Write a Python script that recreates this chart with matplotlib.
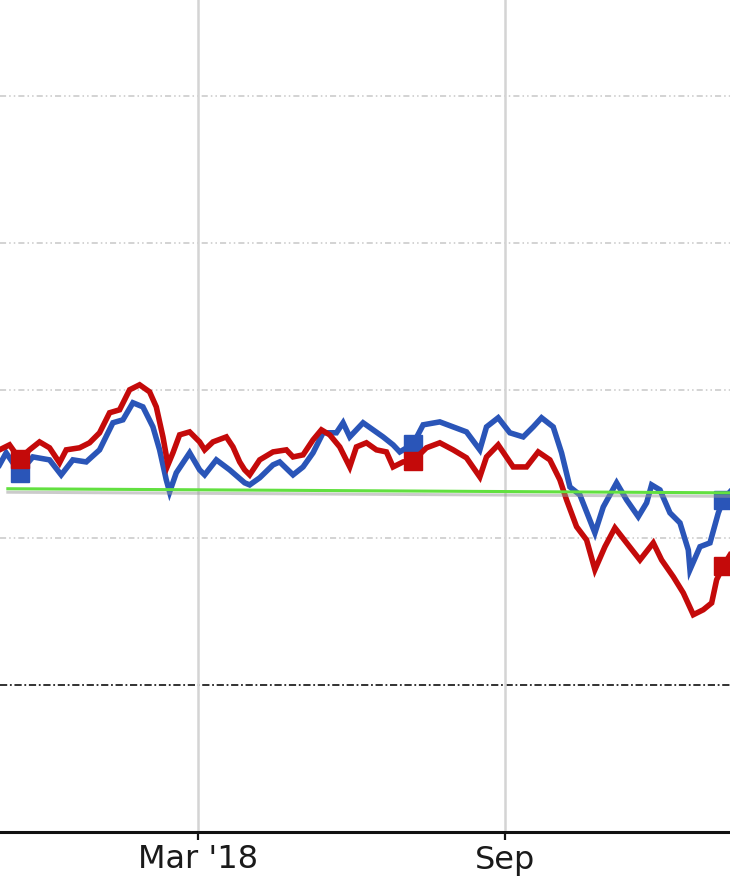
import matplotlib
matplotlib.use("Agg")
import matplotlib.pyplot as plt
import matplotlib.patheffects as pe
import pandas as pd

# ---- data (days offset from 2018-03-01, values in price units) ----
base_date = "2018-03-01"

red_days = [-119, -113, -107, -101, -95, -89, -83, -79, -71, -65, -59, -53, -47, -41, -35,
            -29, -25, -21, -18, -15, -11, -5, 1, 4, 9, 17, 21, 25, 28, 31, 37, 45, 53, 57,
            63, 69, 74, 79, 85, 91, 95, 101, 107, 113, 117, 123, 129, 137, 145, 153, 161,
            169, 173, 180, 189, 197, 204, 211, 217, 221, 227, 233, 238, 244, 250, 257, 265,
            273, 278, 285, 291, 297, 303, 308, 311, 315, 319]
red_vals = [27.98, 28.15, 27.67, 27.98, 28.25, 28.05, 27.54, 27.98, 28.05, 28.22, 28.56, 29.24,
            29.34, 30.02, 30.19, 29.95, 29.44, 28.42, 27.47, 27.88, 28.49, 28.59, 28.25, 27.98,
            28.25, 28.42, 28.08, 27.57, 27.30, 27.13, 27.64, 27.91, 27.98, 27.74, 27.81, 28.32,
            28.66, 28.49, 28.08, 27.40, 28.08, 28.22, 27.98, 27.91, 27.40, 27.57, 27.61, 28.05,
            28.22, 27.98, 27.71, 27.06, 27.74, 28.15, 27.40, 27.40, 27.91, 27.64, 26.96, 26.28,
            25.37, 24.92, 23.91, 24.69, 25.33, 24.82, 24.24, 24.82, 24.24, 23.67, 23.12, 22.38,
            22.55, 22.78, 23.57, 24.04, 24.41]

blue_days = [-119, -115, -107, -99, -89, -82, -75, -67, -59, -51, -45, -39, -33, -27, -23, -19,
             -17, -13, -5, 1, 4, 11, 19, 28, 31, 37, 45, 49, 57, 63, 69, 75, 83, 87, 91, 99,
             105, 111, 117, 121, 129, 135, 145, 153, 161, 169, 173, 180, 187, 195, 201, 206,
             213, 218, 223, 229, 238, 243, 251, 257, 264, 269, 272, 277, 283, 289, 294, 295,
             301, 307, 312, 315, 319]
blue_vals = [27.47, 27.88, 27.20, 27.74, 27.64, 27.13, 27.64, 27.57, 27.98, 28.90, 29.00, 29.58,
             29.44, 28.76, 27.98, 26.96, 26.55, 27.20, 27.88, 27.30, 27.13, 27.64, 27.30, 26.86,
             26.79, 27.03, 27.47, 27.57, 27.13, 27.40, 27.88, 28.56, 28.56, 28.90, 28.42, 28.90,
             28.66, 28.42, 28.15, 27.91, 28.18, 28.83, 28.93, 28.76, 28.59, 27.98, 28.76, 29.07,
             28.56, 28.42, 28.76, 29.07, 28.76, 27.88, 26.72, 26.45, 25.16, 26.04, 26.86, 26.28,
             25.71, 26.18, 26.79, 26.62, 25.84, 25.50, 24.58, 23.91, 24.69, 24.82, 25.84, 26.28,
             26.55]

marker_days = [-107, 129, 315]

green_days = [-114, 319]
green_vals = [26.66, 26.52]

ref_level = 20.0
grid_levels = [25, 30, 35, 40]

tick_dates = ["2018-03-01", "2018-09-01"]
tick_labels = ["Mar '18", "Sep"]

# ---- build ----
b = pd.Timestamp(base_date)
to_dates = lambda days: [b + pd.Timedelta(days=d) for d in days]

fig = plt.figure(figsize=(7.3, 8.92), dpi=100)
ax = fig.add_axes([0, 60 / 892, 1, 832 / 892])

red_c = "#c40a0a"
blue_c = "#2a55b8"

red_mk = [red_days.index(d) for d in marker_days]
blue_mk = [blue_days.index(d) for d in marker_days]

ax.plot(to_dates(blue_days), blue_vals, color=blue_c, lw=4.0, zorder=3,
        marker="s", markersize=13.5, markevery=blue_mk, solid_joinstyle="miter")
ax.plot(to_dates(red_days), red_vals, color=red_c, lw=4.0, zorder=4,
        marker="s", markersize=13.5, markevery=red_mk, solid_joinstyle="miter")

ax.plot(to_dates(green_days), green_vals, color="#62e040", lw=2.2, zorder=5,
        path_effects=[pe.SimpleLineShadow(offset=(0, -2.5), shadow_color="#999999", alpha=0.5),
                      pe.Normal()])

for g in grid_levels:
    ax.axhline(g, color="#c8c8c8", lw=1.1, ls=(0, (4, 2, 1, 2, 1, 2)), zorder=1)
ax.axhline(ref_level, color="#222222", lw=1.3, ls=(0, (4, 1.5, 1, 1.5)), zorder=1)

ax.set_xticks([pd.Timestamp(t) for t in tick_dates])
ax.set_xticklabels(tick_labels)
ax.set_yticks([])
ax.set_xlim(b - pd.Timedelta(days=118.7), b + pd.Timedelta(days=319.0))
ax.set_ylim(15.0, 43.26)
ax.grid(axis="x", color="#d4d4d4", lw=1.8, zorder=0)

for s in ["left", "right", "top"]:
    ax.spines[s].set_visible(False)
ax.spines["bottom"].set_linewidth(2.2)
ax.spines["bottom"].set_color("#111111")
ax.tick_params(axis="x", direction="out", length=6, width=1.6, color="#111111",
               pad=3, labelsize=23, labelcolor="#1a1a1a")
for lbl in ax.get_xticklabels():
    lbl.set_fontfamily("DejaVu Sans")

fig.savefig("out.png", dpi=100)
